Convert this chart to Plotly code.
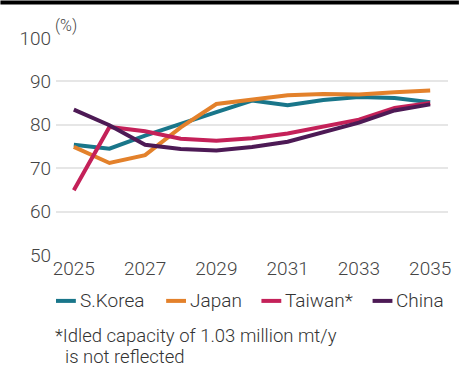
import plotly.graph_objects as go

years = list(range(2025, 2036))
skorea = [75.4, 74.5, 77.5, 80.3, 82.9, 85.6, 84.5, 85.7, 86.4, 86.2, 85.2]
japan = [74.9, 71.2, 73.0, 79.4, 84.8, 85.8, 86.8, 87.1, 87.0, 87.5, 87.9]
taiwan = [64.9, 79.5, 78.5, 76.8, 76.3, 76.9, 78.0, 79.6, 81.2, 83.9, 85.0]
china = [83.5, 79.9, 75.4, 74.4, 74.1, 74.9, 76.1, 78.3, 80.5, 83.3, 84.7]

series_names = ["S.Korea", "Japan", "Taiwan*", "China"]
series_values = [skorea, japan, taiwan, china]
colors = ["#19768a", "#e3812b", "#c42159", "#4d1a55"]

y_ticks = [50, 60, 70, 80, 90, 100]
x_ticks = [2025, 2027, 2029, 2031, 2033, 2035]

FONT = "Roboto"
WT = 300
fig = go.Figure()
for name, vals, col in zip(series_names, series_values, colors):
    fig.add_trace(go.Scatter(x=years, y=vals, mode="lines", name=name,
                             line=dict(color=col, width=4), showlegend=False))

W, H = 462, 372
L, R, T, B = 56, 11, 37.5, 117
pw, ph = W - L - R, H - T - B

def px(x):
    return (x - L) / pw

def py(y):
    return (H - B - y) / ph

shapes = []
annotations = []
# top black band (cut-off title bar)
shapes.append(dict(type="rect", xref="paper", yref="paper", x0=px(0), x1=px(W),
                   y0=py(4), y1=py(0), fillcolor="black", line=dict(width=0), layer="above"))

# manual legend
leg_pos = [(56, 76, 78), (167, 187, 189), (263, 283, 285), (375, 395, 397)]
for (x0, x1, xt), name, col in zip(leg_pos, series_names, colors):
    shapes.append(dict(type="line", xref="paper", yref="paper", x0=px(x0), x1=px(x1),
                       y0=py(301), y1=py(301), line=dict(color=col, width=4)))
    annotations.append(dict(text=name, xref="paper", yref="paper", x=px(xt), y=py(301),
                            xanchor="left", yanchor="middle", showarrow=False,
                            font=dict(family=FONT, size=19, color="#333333", weight=WT)))

annotations.append(dict(text="(%)", xref="paper", yref="paper", x=px(53), y=py(25),
                        xanchor="left", yanchor="middle", showarrow=False,
                        font=dict(family=FONT, size=16, color="#444444", weight=WT)))
annotations.append(dict(text="*Idled capacity of 1.03 million mt/y", xref="paper", yref="paper",
                        x=px(53), y=py(336), xanchor="left", yanchor="middle", showarrow=False,
                        font=dict(family=FONT, size=18.5, color="#333333", weight=WT)))
annotations.append(dict(text="is not reflected", xref="paper", yref="paper",
                        x=px(63), y=py(357), xanchor="left", yanchor="middle", showarrow=False,
                        font=dict(family=FONT, size=18.5, color="#333333", weight=WT)))

fig.update_layout(
    width=W, height=H,
    margin=dict(l=L, r=R, t=T, b=B, pad=0),
    paper_bgcolor="white", plot_bgcolor="white",
    shapes=shapes, annotations=annotations,
    font=dict(family=FONT, color="#444444", weight=WT),
)
fig.update_xaxes(range=[2024.5, 2035.5], tickvals=x_ticks, ticktext=[str(v) for v in x_ticks],
                 showgrid=False, zeroline=False, showline=False, ticks="",
                 tickfont=dict(family=FONT, size=19, color="#444444", weight=WT))
fig.update_yaxes(range=[50, 100], tickvals=y_ticks, showgrid=True, gridcolor="#e6e6e6",
                 gridwidth=1.5, zeroline=False, showline=False, ticks="",
                 ticklabelstandoff=4,
                 tickfont=dict(family=FONT, size=19, color="#444444", weight=WT))

fig.write_html("out.html")
